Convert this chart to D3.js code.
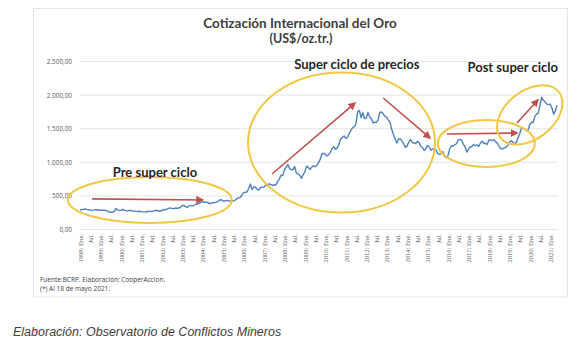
<!DOCTYPE html>
<html><head><meta charset="utf-8">
<script src="https://cdn.jsdelivr.net/npm/d3@7"></script>
<style>
body{margin:0;background:#fff;}
svg{display:block;}
</style></head>
<body>
<svg id="c" width="572" height="340"></svg>
<script>
// ---- data ----
const startYear = 1998;
const goldPrice = [
 289,297,296,308,299,292,293,284,289,296,294,291,
 287,288,286,282,277,262,256,257,265,311,293,284,
 285,300,286,280,275,286,282,275,274,270,266,272,
 266,262,263,260,272,270,268,273,283,283,276,276,
 282,296,294,302,314,321,314,310,319,317,319,333,
 357,359,340,328,355,356,351,360,379,379,389,407,
 414,405,406,404,383,392,398,400,406,420,439,442,
 424,423,434,429,422,430,424,438,456,470,476,510,
 549,555,557,610,676,596,633,632,598,585,627,629,
 631,665,655,680,668,655,666,665,713,754,807,803,
 889,922,968,910,889,890,939,839,830,807,761,817,
 859,943,925,891,927,946,934,949,996,1043,1127,1135,
 1118,1095,1114,1149,1205,1232,1193,1215,1271,1343,1370,1391,
 1356,1372,1424,1474,1512,1529,1573,1756,1772,1666,1739,1652,
 1656,1743,1674,1650,1585,1596,1594,1630,1745,1747,1721,1684,
 1671,1627,1593,1487,1414,1343,1286,1347,1349,1316,1275,1222,
 1244,1300,1336,1299,1287,1279,1311,1296,1239,1222,1176,1202,
 1251,1227,1179,1198,1199,1181,1131,1117,1125,1159,1086,1068,
 1097,1200,1246,1243,1261,1276,1337,1341,1326,1267,1236,1152,
 1192,1234,1231,1266,1246,1260,1236,1283,1315,1280,1283,1265,
 1331,1331,1325,1335,1304,1282,1238,1202,1199,1215,1221,1250,
 1291,1320,1300,1285,1284,1359,1413,1500,1510,1495,1471,1480,
 1560,1597,1592,1683,1716,1732,1846,1968,1922,1900,1866,1858,
 1867,1808,1718,1760,1850
];
const yTicks = [0, 500, 1000, 1500, 2000, 2500];
const xTickLabels = [
 "1998: Ene.","Jul.","1999: Ene.","Jul.","2000: Ene.","Jul.","2001: Ene.","Jul.",
 "2002: Ene.","Jul.","2003: Ene.","Jul.","2004: Ene.","Jul.","2005: Ene.","Jul.",
 "2006: Ene.","Jul.","2007: Ene.","Jul.","2008: Ene.","Jul.","2009: Ene.","Jul.",
 "2010: Ene.","Jul.","2011: Ene.","Jul.","2012: Ene.","Jul.","2013: Ene.","Jul.",
 "2014: Ene.","Jul.","2015: Ene.","Jul.","2016: Ene.","Jul.","2017: Ene.","Jul.",
 "2018: Ene.","Jul.","2019: Ene.","Jul.","2020: Ene.","Jul.","2021: Ene."
];
// annotations in data space (month index from Jan 1998, value)
const phaseLabels = [
 {text:"Pre super ciclo", m:44, v:855},
 {text:"Super ciclo de precios", m:162.5, v:2450},
 {text:"Post super ciclo", m:254, v:2405}
];
const ellipses = [
 {m:41, v:440, rx:82, ry:23, rot:0},
 {m:153.5, v:1295, rx:93.5, ry:70, rot:0},
 {m:238.5, v:1280, rx:48.5, ry:23.5, rot:0},
 {m:264, v:1704, rx:37, ry:24, rot:-38}
];
const arrows = [
 {m1:7, v1:455, m2:72, v2:440},
 {m1:112.7, v1:826, m2:161.4, v2:1882},
 {m1:178, v1:1957, m2:205.4, v2:1362},
 {m1:215.4, v1:1421, m2:256.5, v2:1436},
 {m1:256.5, v1:1585, m2:268.8, v2:1927}
];

// ---- drawing ----
const svg = d3.select("#c");
const x = d3.scaleLinear().domain([0, goldPrice.length - 1]).range([80, 557]);
const y = d3.scaleLinear().domain([0, 2500]).range([229.5, 61.5]);
const loc = d3.formatLocale({decimal:",", thousands:".", grouping:[3], currency:["",""]});
const fmt = loc.format(",.2f");

// panel
svg.append("rect").attr("x",33.5).attr("y",8.5).attr("width",534).attr("height",288.5)
  .attr("fill","#fff").attr("stroke","#e6e6e6").attr("stroke-width",1);

// title
svg.append("text").attr("x",300).attr("y",28).attr("text-anchor","middle")
  .attr("font-family","Lato, 'Liberation Sans', sans-serif").attr("font-weight","bold")
  .attr("font-size",13.5).attr("fill","#404040").text("Cotización Internacional del Oro");
svg.append("text").attr("x",301).attr("y",42.5).attr("text-anchor","middle")
  .attr("font-family","Lato, 'Liberation Sans', sans-serif").attr("font-weight","bold")
  .attr("font-size",12.5).attr("fill","#404040").text("(US$/oz.tr.)");

// y grid + axis
const yAxis = d3.axisLeft(y).tickValues(yTicks).tickFormat(fmt).tickSize(0).tickPadding(8);
const gy = svg.append("g").attr("transform","translate(80,0)").call(yAxis);
gy.select(".domain").remove();
gy.selectAll("text").attr("font-family","'Open Sans', sans-serif").attr("font-size",6.4).attr("fill","#595959");
svg.append("g").selectAll("line").data(yTicks).join("line")
  .attr("x1",80).attr("x2",558).attr("y1",d=>y(d)).attr("y2",d=>y(d))
  .attr("stroke","#dedede").attr("stroke-width",0.8);

// x axis labels
const xTickIdx = xTickLabels.map((_, i) => i * 6);
const xAxis = d3.axisBottom(x).tickValues(xTickIdx)
  .tickFormat((d, i) => xTickLabels[i]).tickSize(0).tickPadding(0);
const gx = svg.append("g").attr("transform","translate(0,234)").call(xAxis);
gx.select(".domain").remove();
gx.selectAll("text")
  .attr("font-family","'Liberation Serif', serif").attr("font-size",6.6).attr("fill","#595959")
  .attr("text-anchor","end").attr("dy","0.35em").attr("y",0)
  .attr("transform","rotate(-90)").attr("x",0);

// line
const line = d3.line().x((d,i)=>x(i)).y(d=>y(d));
svg.append("path").datum(goldPrice).attr("d",line)
  .attr("fill","none").attr("stroke","#4f81bd").attr("stroke-width",1.4).attr("stroke-linejoin","round");

// arrows
const defs = svg.append("defs");
defs.append("marker").attr("id","ah").attr("viewBox","0 0 10 10").attr("refX",8).attr("refY",5)
  .attr("markerWidth",5).attr("markerHeight",5).attr("orient","auto")
  .append("path").attr("d","M0,0 L10,5 L0,10 z").attr("fill","#c0504d");
svg.append("g").selectAll("line").data(arrows).join("line")
  .attr("x1",d=>x(d.m1)).attr("y1",d=>y(d.v1)).attr("x2",d=>x(d.m2)).attr("y2",d=>y(d.v2))
  .attr("stroke","#c0504d").attr("stroke-width",1.6).attr("marker-end","url(#ah)");

// ellipses
svg.append("g").selectAll("ellipse").data(ellipses).join("ellipse")
  .attr("cx",0).attr("cy",0).attr("rx",d=>d.rx).attr("ry",d=>d.ry)
  .attr("transform",d=>`translate(${x(d.m)},${y(d.v)}) rotate(${d.rot})`)
  .attr("fill","none").attr("stroke","#f2c744").attr("stroke-width",2);

// phase labels
svg.append("g").selectAll("text").data(phaseLabels).join("text")
  .attr("x",d=>x(d.m)).attr("y",d=>y(d.v)).attr("dy","0.35em").attr("text-anchor","middle")
  .attr("font-family","Lato, 'Liberation Sans', sans-serif").attr("font-weight","bold")
  .attr("font-size",13).attr("fill","#262626").text(d=>d.text);

// footnotes
const foot = svg.append("g").attr("font-family","'Open Sans', sans-serif").attr("font-size",6.5).attr("fill","#404040");
foot.append("text").attr("x",40).attr("y",282).text("Fuente:BCRP. Elaboración: CooperAccion.");
foot.append("text").attr("x",40).attr("y",291).text("(*) Al 18 de mayo 2021.");

// caption
svg.append("text").attr("x",13).attr("y",336).attr("font-family","'Liberation Sans', Arial, sans-serif")
  .attr("font-style","italic").attr("font-size",12.5).attr("fill","#404040")
  .text("Elaboración: Observatorio de Conflictos Mineros");
</script>
</body></html>
